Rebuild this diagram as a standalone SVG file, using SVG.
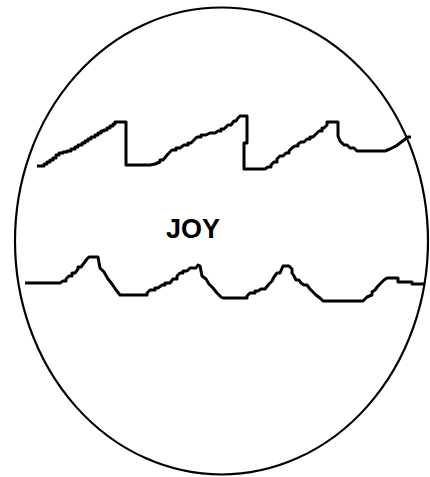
<svg xmlns="http://www.w3.org/2000/svg" width="430" height="477" viewBox="0 0 430 477">
<style>
.wave{fill:none;stroke:#000;stroke-width:3;stroke-linejoin:round;stroke-linecap:butt}
.rim{fill:#fff;stroke:#000;stroke-width:2.2}
.lbl{font-family:"Liberation Sans",Arial,sans-serif;font-weight:bold;font-size:27px;fill:#000}
</style>
<rect width="430" height="477" fill="#fff"/>
<g id="globe">
<ellipse class="rim" cx="221.5" cy="241" rx="206.5" ry="233.5"/>
</g>
<g id="waves">
<path id="top-wave" class="wave" d="M37,166 H44 V164 H47 V162 H50 V160 H53 V158 H56 V155 H59 V153 H63 V152 H67 V151 H71 V149 H75 V147 H78 V145 H82 V143 H85 V141 H88 V139 H91 V137 H95 V135 H98 V133 H101 V131 H104 V130 H107 V128 H110 V126 H113 V124 H115 V122 H126 V165 H150 L155,164 L160,162 V160 H163 L168,154 L172,150 H176 V148 H180 L184,145 H188 V143 H191 L194,140 L197,137 H201 V135 H206 L210,133 H215 L218,131 H221 V129 H224 L228,125 H231 L234,121 H236 L238,118 L240,116 H247 V143 H244 V169 H265 L268,167 H271 V165 L274,162 H277 V159 L280,156 H283 L286,153 H289 V151 L292,148 L295,146 H298 V144 L301,142 H304 L307,139 H310 V137 H313 L316,134 L319,131 H322 V128 H324 L327,125 V122 H338 V136 L340,141 L344,145 H347 L350,148 H354 L357,151 H385 L390,149 L396,146 L400,143 L404,140 L408,137 H411"/>
<path id="bottom-wave" class="wave" d="M25,283 H60 L63,281 H66 V279 L69,276 H72 V273 H75 L78,269 V267 H81 L84,263 L87,259 L89,257 H98 L100,268 L104,272 L108,279 L112,284 L116,290 L120,295 H147 V293 L150,290 H155 V288 H158 L162,285 H165 V283 H170 L173,279 H177 V276 L180,273 H183 V271 H187 L190,268 H196 L198,265 L200,266 L202,276 L206,279 L209,284 L213,288 L217,293 L221,297 L223,298 H247 V296 L250,293 H255 V291 H258 L261,289 H265 L269,284 L272,281 L274,277 L277,273 H280 L283,266 H289 L292,269 V273 L294,276 L296,280 H299 L301,283 L304,285 H307 L310,289 L313,292 L316,295 L320,298 L323,301 H363 L367,297 L372,295 V292 L375,290 L378,286 L381,283 L384,280 L387,278 H398 V282 H412 V284 H424"/>
</g>
<g id="label">
<text class="lbl" x="166" y="237.5">JOY</text>
</g>
</svg>
